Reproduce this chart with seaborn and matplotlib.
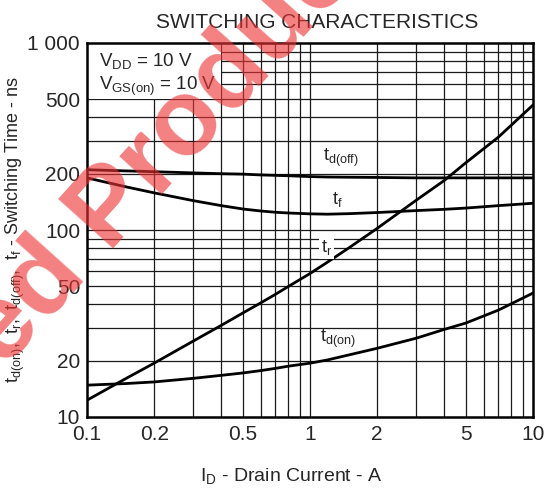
import numpy as np
import pandas as pd
import matplotlib
matplotlib.use("Agg")
import matplotlib.pyplot as plt
import seaborn as sns
from matplotlib.patches import Rectangle

# ---- data ----
drain_current = [0.1, 0.15, 0.2, 0.3, 0.4, 0.5, 0.6, 0.7, 0.8, 1, 1.2, 1.5, 2, 3, 4, 5, 7, 10]
td_off = [210, 207, 205, 202, 200, 199, 197, 196, 195, 193, 192, 191.5, 191, 190, 190, 190, 190, 190]
t_f = [190, 170, 158, 143.5, 135, 129.5, 126.4, 124.4, 123.3, 122, 121.5, 122.3, 124, 127, 129, 131, 135, 139]
t_r = [12.3, 16.1, 19.4, 25.5, 30.9, 36, 40.7, 45.3, 49.9, 58.5, 67.4, 80.5, 102, 144.5, 184, 229, 314, 466]
td_on = [14.8, 15.1, 15.4, 16.1, 16.7, 17.2, 17.7, 18.2, 18.7, 19.4, 20.2, 21.5, 23.3, 26.4, 29.4, 31.8, 37.3, 46]

series_names = ["td(off)", "tf", "tr", "td(on)"]
series_labels = [r"$\mathregular{t_{d(off)}}$", r"$\mathregular{t_f}$",
                 r"$\mathregular{t_r}$", r"$\mathregular{t_{d(on)}}$"]
label_pos = [(1.14, 243), (1.26, 146), (1.12, 81), (1.11, 26)]
label_box = [False, False, True, False]

x_ticks = [0.1, 0.2, 0.5, 1, 2, 5, 10]
x_ticklabels = ["0.1", "0.2", "0.5", "1", "2", "5", "10"]
y_ticks = [10, 20, 50, 100, 200, 500, 1000]
y_ticklabels = ["10", "20", "50", "100", "200", "500", "1 000"]

sns.set_style("white")
plt.rcParams["font.family"] = ["Liberation Sans", "DejaVu Sans"]
plt.rcParams["mathtext.fontset"] = "custom"
plt.rcParams["mathtext.rm"] = "Liberation Sans"

df = pd.DataFrame({
    "I": drain_current * 4,
    "t": td_off + t_f + t_r + td_on,
    "series": sum([[n] * len(drain_current) for n in series_names], []),
})

fig = plt.figure(figsize=(5.5, 4.93), dpi=100)
ax = fig.add_axes([87 / 550, 1 - 417 / 493, (533 - 87) / 550, (417 - 43) / 493])
ax.set_xscale("log")
ax.set_yscale("log")
ax.set_xlim(0.1, 10)
ax.set_ylim(10, 1000)

# grid lines at the minor positions
vlines = [0.2, 0.3, 0.4, 0.5, 0.6, 0.7, 0.8, 0.9, 1, 2, 3, 4, 5, 6, 7, 8, 9]
hlines = [20, 30, 40, 50, 60, 70, 80, 90, 100, 200, 300, 400, 500, 600, 700, 800, 900]
for v in vlines:
    ax.axvline(v, color="#1a1a1a", lw=0.9, zorder=1)
for h in hlines:
    ax.axhline(h, color="#1a1a1a", lw=0.9, zorder=1)

# white box behind the conditions text
ax.add_patch(Rectangle((0.1, 500), 0.3, 500, facecolor="white", edgecolor="none", zorder=2))

sns.lineplot(data=df, x="I", y="t", hue="series", palette=["black"] * 4,
             linewidth=2.0, legend=False, ax=ax, zorder=3, estimator=None)

for lab, (lx, ly), boxed in zip(series_labels, label_pos, label_box):
    kw = dict(bbox=dict(facecolor="white", edgecolor="none", pad=1.5)) if boxed else {}
    ax.text(lx, ly, lab, fontsize=13, ha="left", va="center", zorder=4, **kw)

ax.text(0.113, 800, r"$\mathregular{V_{DD}}$ = 10 V", fontsize=13.5, va="center", zorder=4)
ax.text(0.113, 585, r"$\mathregular{V_{GS(on)}}$ = 10 V", fontsize=13.5, va="center", zorder=4)

ax.set_xticks(x_ticks)
ax.set_xticklabels(x_ticklabels)
ax.set_yticks(y_ticks)
ax.set_yticklabels(y_ticklabels)
ax.minorticks_off()
ax.tick_params(axis="x", labelsize=15, length=0, pad=6)
ax.tick_params(axis="y", labelsize=15, length=0, pad=5)
for s in ax.spines.values():
    s.set_color("black")
    s.set_linewidth(1.8)
    s.set_zorder(5)

ax.set_xlabel(r"$\mathregular{I_D}$ - Drain Current - A", fontsize=14)
ax.xaxis.set_label_coords((291 - 87) / 446, -(466 - 417) / 374)
ax.set_ylabel(r"$\mathregular{t_{d(on)},\ t_r,\ t_{d(off)},\ t_f}$ - Switching Time - ns",
              fontsize=13)
ax.yaxis.set_label_coords(-(87 - 27) / 446, 0.5)
ax.set_title("SWITCHING CHARACTERISTICS", fontsize=15, x=(317 - 87) / 446, pad=11)

# watermark
fig.text(6 / 550, 1 - 326 / 493, "Discontinued Products", fontsize=78, fontweight="bold",
         color="#ee3333", alpha=0.62, rotation=48, ha="center", va="center",
         rotation_mode="anchor", zorder=10)

fig.savefig("out.png", dpi=100)
